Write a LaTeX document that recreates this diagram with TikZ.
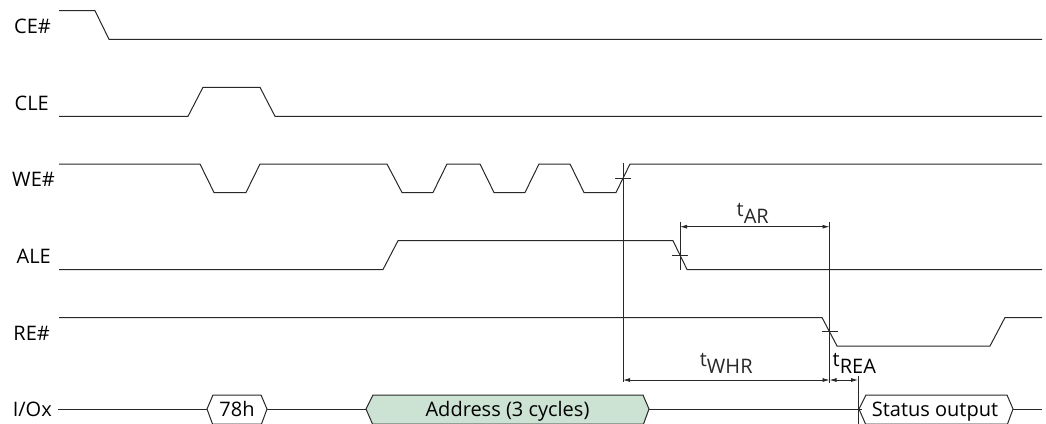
\documentclass[tikz,border=0pt]{standalone}
\usepackage{fontspec}
\setmainfont{Open Sans}
\usetikzlibrary{arrows.meta}
\definecolor{addrgreen}{RGB}{204,227,211}
\definecolor{wavegray}{RGB}{40,40,40}
\newcommand{\tparam}[1]{\raisebox{0.33em}{t}#1}

\begin{document}
\begin{tikzpicture}[x=1pt,y=-1pt,
                      wave/.style={line width=1pt,wavegray},
                      ref/.style={line width=1pt,wavegray},
                      dim/.style={line width=0.8pt,wavegray,{Latex[length=7pt,width=4pt]}-{Latex[length=7pt,width=4pt]}},
                      lab/.style={anchor=east,inner sep=0pt,font=\fontsize{20}{24}\selectfont},
                      txt/.style={inner sep=0pt,font=\fontsize{20}{24}\selectfont}]
                      \useasboundingbox (0,0) rectangle (1046,423);
                      \clip (0,0) rectangle (1046,423);

                      \node[lab] (ce) at (51,26) {CE\#};
                      \node[lab] (cle) at (49,103) {CLE};
                      \node[lab] (we) at (55,179) {WE\#};
                      \node[lab] (ale) at (51,256) {ALE};
                      \node[lab] (re) at (50,333) {RE\#};
                      \node[lab] (io) at (52,409) {I/Ox};

                      \draw[wave] (59,10.7)--(95,10.7)--(109,39.3)--(1042,39.3);
                      \draw[wave] (59,116.3)--(188,116.3)--(203,87.3)--(260,87.3)--(275,116.3)--(1042,116.3);
                      \draw[wave] (59,164)--(200,164)--(214,192.5)--(246,192.5)--(260,164)
                                  --(387,164)--(402,192.5)--(433,192.5)--(447,164)
                                  --(480,164)--(494,192.5)--(525,192.5)--(539,164)
                                  --(570,164)--(584,192.5)--(616,192.5)--(630,164)--(1042,164);
                      \draw[wave] (59,269.5)--(383,269.5)--(398,240.7)--(673,240.7)--(687,269.5)--(1042,269.5);
                      \draw[wave] (59,317.5)--(822,317.5)--(837,346)--(990,346)--(1005,317.5)--(1042,317.5);

                      \draw[wave] (207,409)--(213,395)--(261,395)--(267,409)--(261.5,424)--(212.5,424)--cycle;
                      \draw[wave,fill=addrgreen] (366,409)--(373,395)--(643,395)--(649,409)--(643.5,424)--(372.5,424)--cycle;
                      \draw[wave] (859,409)--(866,395)--(1007,395)--(1013,409)--(1007.5,424)--(865.5,424)--cycle;
                      \node[txt,anchor=base] (cmd) at (237,416) {78h};
                      \node[txt,anchor=base] (addr) at (507.5,416) {Address (3 cycles)};
                      \node[txt,anchor=base] (stat) at (935,416) {Status output};
                      \draw[wave] ([xshift=6pt]io.east)--(207,409);
                      \draw[wave] (267,409)--(366,409);
                      \draw[wave] (649,409)--(859,409);
                      \draw[wave] (1013,409)--(1042,409);

                      \coordinate (werise) at (623,178.25);
                      \coordinate (alefall) at (680,255.1);
                      \coordinate (refall) at (829.5,331.75);
                      \coordinate (ioout) at (858,409);
                      \coordinate (ar1) at (680,226.7);
                      \coordinate (ar2) at (829.5,226.7);
                      \coordinate (whr1) at (623,380);
                      \coordinate (whr2) at (829.5,380);
                      \coordinate (rea2) at (858,380);

                      \draw[ref] ([yshift=15pt]werise)--([yshift=-2pt]whr1);
                      \draw[ref] ([xshift=-8pt]werise)--([xshift=8pt]werise);
                      \draw[ref] ([yshift=5pt]ar1)--([yshift=-15pt]alefall);
                      \draw[ref] ([xshift=-8pt]alefall)--([xshift=8pt]alefall);
                      \draw[ref] ([yshift=5pt]ar2)--([yshift=-3pt]whr2);
                      \draw[ref] ([xshift=-8pt]refall)--([xshift=8pt]refall);
                      \draw[ref] ([yshift=4pt]rea2)--([yshift=-20pt]ioout);
                      \draw[ref] ([xshift=-4pt]ioout)--([xshift=4pt]ioout);

                      \draw[dim] (ar1)--node[txt,anchor=base,yshift=3.5pt,xshift=-2pt] (tar) {\tparam{AR}} (ar2);
                      \draw[dim] (whr1)--node[txt,anchor=base,yshift=7pt] (twhr) {\tparam{WHR}} (whr2);
                      \draw[dim] (whr2)--(rea2);
                      \node[txt,anchor=base west] (trea) at ([xshift=3pt,yshift=7pt]whr2) {\tparam{REA}};
                \end{tikzpicture}
\end{document}
